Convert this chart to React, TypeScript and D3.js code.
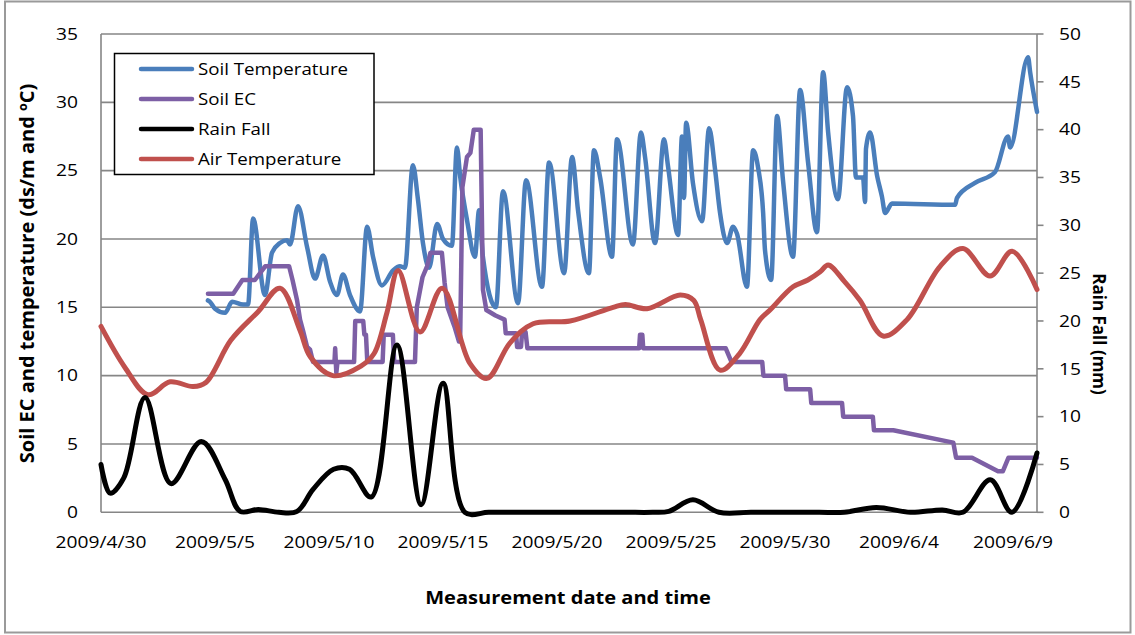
import React from "react";
import * as d3 from "d3";

const W = 1135;
const H = 635;

// x positions are day offsets from 2009/4/30 00:00
const dayEnd = 41.05;
const dateTickDays = [0, 5, 10, 15, 20, 25, 30, 35, 40];
const dateTickLabels = [
  "2009/4/30", "2009/5/5", "2009/5/10", "2009/5/15", "2009/5/20",
  "2009/5/25", "2009/5/30", "2009/6/4", "2009/6/9",
];
const leftTicks = [0, 5, 10, 15, 20, 25, 30, 35];
const rightTicks = [0, 5, 10, 15, 20, 25, 30, 35, 40, 45, 50];

const seriesNames = ["Soil Temperature", "Soil EC", "Rain Fall", "Air Temperature"];
const seriesColors = ["#4a7ebb", "#7d5fa5", "#000000", "#c0504d"];

// Soil temperature (ºC), [day, value]
const soilTemperature: [number, number][] = [
  [4.69, 15.5], [4.78, 15.4], [5.0, 14.9], [5.44, 14.6], [5.75, 15.4], [6.23, 15.2],
  [6.45, 15.2], [6.67, 21.5], [7.19, 15.9], [7.5, 19.0], [7.85, 19.7], [8.16, 19.9],
  [8.29, 19.6], [8.64, 22.4], [9.04, 19.4], [9.39, 17.1], [9.74, 18.8], [10.04, 16.9],
  [10.35, 15.9], [10.61, 17.4], [10.92, 15.9], [11.36, 14.7], [11.67, 20.9], [11.93, 18.7],
  [12.32, 16.6], [12.81, 17.7], [13.11, 18.0], [13.33, 17.9], [13.68, 25.4], [13.9, 22.9],
  [14.12, 19.7], [14.39, 17.9], [14.74, 21.1], [15.0, 20.0], [15.39, 19.5], [15.61, 26.7],
  [15.75, 24.6], [16.05, 21.4], [16.4, 18.7], [16.58, 22.1], [16.75, 18.7], [17.32, 15.0],
  [17.63, 23.5], [18.29, 15.3], [18.64, 24.3], [19.34, 16.5], [19.65, 25.6], [20.31, 17.5],
  [20.66, 26.0], [20.92, 22.1], [21.4, 17.5], [21.62, 26.5], [21.89, 24.5], [22.41, 18.7],
  [22.63, 27.3], [23.33, 19.6], [23.68, 27.8], [23.86, 26.0], [24.3, 19.7], [24.69, 27.3],
  [24.87, 25.3], [25.31, 20.3], [25.48, 27.5], [25.57, 23.0], [25.66, 28.5], [25.96, 24.1],
  [26.36, 21.3], [26.67, 28.1], [26.93, 25.1], [27.15, 21.9], [27.46, 19.7], [27.72, 20.9],
  [27.89, 20.4], [28.33, 16.5], [28.6, 26.5], [28.82, 25.2], [29.04, 21.9], [29.12, 19.2],
  [29.39, 17.0], [29.65, 29.0], [29.91, 24.3], [30.35, 18.7], [30.66, 30.9], [31.01, 25.6],
  [31.4, 20.5], [31.67, 32.2], [31.89, 27.8], [32.32, 22.9], [32.72, 31.1], [32.98, 29.0],
  [33.11, 24.5], [33.42, 24.5], [33.51, 22.7], [33.55, 26.6], [33.73, 27.8], [34.04, 24.6],
  [34.25, 23.1], [34.39, 21.9], [34.69, 22.6], [37.46, 22.5], [37.54, 23.0], [38.33, 24.1],
  [39.21, 24.9], [39.78, 27.5], [39.87, 26.7], [40.66, 33.3], [40.75, 32.2], [41.05, 29.3],
];

// Soil EC (ds/m), [day, value]
const soilEC: [number, number][] = [
  [4.69, 16], [5.8, 16], [6.2, 17], [6.75, 17], [7.2, 18], [8.25, 18], [8.4, 17],
  [8.6, 15.5], [8.73, 14.1], [8.86, 13.3], [9.04, 12.1], [9.17, 11.9], [9.3, 11],
  [10.24, 11], [10.27, 12], [10.32, 10.2], [10.37, 11], [11.1, 11], [11.15, 14],
  [11.5, 14], [11.55, 13], [11.62, 13], [11.68, 11], [12.35, 11], [12.4, 13],
  [12.8, 13], [12.86, 11], [13.77, 11], [13.85, 15], [14.1, 17.2], [14.3, 18],
  [14.45, 19], [14.95, 19], [15.07, 16.8], [15.2, 15], [15.5, 13.6], [15.7, 12.5],
  [15.75, 12.5], [15.85, 23.8], [16.05, 26], [16.2, 26.3], [16.35, 28], [16.65, 28],
  [16.75, 16.3], [16.9, 14.8], [17.3, 14.4], [17.7, 14.1], [17.75, 13.1], [18.2, 13.1],
  [18.25, 12.1], [18.42, 12.1], [18.47, 13.2], [18.62, 13.2], [18.7, 12], [23.6, 12],
  [23.64, 13], [23.74, 13], [23.78, 12], [27.4, 12], [27.65, 11], [29.0, 11],
  [29.05, 10], [30.0, 10], [30.05, 9], [31.1, 9], [31.15, 8], [32.5, 8], [32.55, 7],
  [33.85, 7], [33.9, 6], [34.75, 6], [37.38, 5.1], [37.5, 4.0], [38.2, 4.0],
  [39.34, 3.0], [39.55, 3.0], [39.8, 4.0], [41.05, 4.0],
];

// Rain fall (mm), [day, value]
const rainFall: [number, number][] = [
  [0, 5.0], [0.4, 2.0], [1.0, 3.6], [1.93, 12.0], [3.07, 3.0], [4.4, 7.4], [5.45, 3.4],
  [6.1, 0.1], [6.9, 0.3], [7.8, 0.0], [8.6, 0.1], [9.3, 2.4], [10.2, 4.5], [10.9, 4.5],
  [11.85, 1.6], [12.98, 17.5], [14.04, 0.8], [15.0, 13.5], [15.96, 0.0], [17.0, 0.0],
  [18.5, 0.0], [20.0, 0.0], [21.5, 0.0], [23.0, 0.0], [24.2, 0.0], [24.9, 0.1],
  [25.96, 1.3], [27.1, 0.0], [28.5, 0.0], [30.0, 0.0], [31.5, 0.0], [32.6, 0.0],
  [34.0, 0.5], [35.5, 0.0], [36.9, 0.25], [37.8, 0.0], [39.0, 3.4], [39.95, 0.0],
  [41.05, 6.2],
];

// Air temperature (ºC), [day, value]
const airTemperature: [number, number][] = [
  [0, 13.6], [1.05, 10.6], [2.06, 8.6], [3.03, 9.55], [4.04, 9.2], [4.6, 9.5], [5.7, 12.6],
  [6.9, 14.7], [7.85, 16.4], [8.73, 13.3], [9.17, 11.4], [10.17, 10.0], [11.4, 10.7],
  [11.97, 11.6], [12.54, 14.6], [13.03, 17.7], [13.99, 13.2], [14.96, 16.4], [16.18, 10.9],
  [16.93, 9.8], [17.94, 12.4], [18.95, 13.8], [20.57, 14.0], [22.46, 15.0], [23.0, 15.2],
  [23.95, 14.9], [25.4, 15.9], [26.0, 15.5], [26.3, 14.1], [27.15, 10.4], [28.0, 11.6],
  [28.9, 14.1], [29.34, 14.8], [30.35, 16.5], [31.0, 17.0], [31.54, 17.6], [31.89, 18.1],
  [32.6, 16.9], [33.29, 15.5], [34.3, 12.9], [35.35, 14.1], [36.8, 18.0], [37.8, 19.3],
  [38.99, 17.3], [39.96, 19.1], [41.05, 16.3],
];

const plot = { left: 101, right: 1037, top: 34, bottom: 512.3 };
const FONT = "'Open Sans', 'Liberation Sans', sans-serif";
const SX = 1.2; // horizontal glyph stretch

function Label(props: {
  x: number; y: number; text: string; anchor?: string; size?: number;
  bold?: boolean; sx?: number; rotate?: number;
}) {
  const { x, y, text, anchor = "start", size = 16, bold = false, sx = SX, rotate = 0 } = props;
  const t = rotate
    ? `translate(${x},${y}) rotate(${rotate})`
    : `translate(${x},${y}) scale(${sx},1)`;
  return (
    <text
      transform={t}
      textAnchor={anchor}
      fontFamily={FONT}
      fontSize={size}
      fontWeight={bold ? 700 : 400}
      fill="#000"
    >
      {text}
    </text>
  );
}

export default function App() {
  const x = d3.scaleLinear().domain([0, dayEnd]).range([plot.left, plot.right]);
  const yL = d3.scaleLinear().domain([0, 35]).range([plot.bottom, plot.top]);
  const yR = d3.scaleLinear().domain([0, 50]).range([plot.bottom, plot.top]);

  const lineL = d3.line<[number, number]>().x((d) => x(d[0])).y((d) => yL(d[1]));
  const monoL = d3
    .line<[number, number]>()
    .x((d) => x(d[0]))
    .y((d) => yL(d[1]))
    .curve(d3.curveMonotoneX);
  const smoothL = d3
    .line<[number, number]>()
    .x((d) => x(d[0]))
    .y((d) => yL(d[1]))
    .curve(d3.curveCatmullRom.alpha(0.5));
  const smoothR = d3
    .line<[number, number]>()
    .x((d) => x(d[0]))
    .y((d) => yR(d[1]))
    .curve(d3.curveCatmullRom.alpha(0.5));

  const grid = "#868686";
  const legendY = [69, 99, 129, 159];

  return (
    <div style={{ position: "absolute", left: 0, top: 0 }}>
      <svg width={W} height={H} viewBox={`0 0 ${W} ${H}`} style={{ display: "block", background: "#fff" }}>
        <rect x={5} y={1.5} width={1125.5} height={631} fill="#fff" stroke="#9a9a9a" strokeWidth={2} />

        {/* horizontal gridlines */}
        {leftTicks.map((t) => (
          <line key={`g${t}`} x1={plot.left} x2={plot.right} y1={yL(t)} y2={yL(t)} stroke={grid} strokeWidth={1.6} />
        ))}
        {/* left axis line */}
        <line x1={plot.left} x2={plot.left} y1={plot.top} y2={plot.bottom} stroke={grid} strokeWidth={1.6} />
        {/* right axis with ticks */}
        <line x1={plot.right} x2={plot.right} y1={plot.top} y2={plot.bottom} stroke={grid} strokeWidth={1.6} />
        {rightTicks.map((t) => (
          <line key={`rt${t}`} x1={plot.right} x2={plot.right + 6.5} y1={yR(t)} y2={yR(t)} stroke={grid} strokeWidth={1.6} />
        ))}

        {/* left tick labels */}
        {leftTicks.map((t) => (
          <Label key={`ll${t}`} x={78} y={yL(t) + 5.8} text={String(t)} anchor="end" />
        ))}
        {/* right tick labels */}
        {rightTicks.map((t) => (
          <Label key={`rl${t}`} x={1059} y={yR(t) + 5.8} text={String(t)} anchor="start" />
        ))}
        {/* date labels */}
        {dateTickDays.map((d, i) => (
          <Label key={`xl${d}`} x={x(d)} y={547.5} text={dateTickLabels[i]} anchor="middle" />
        ))}

        {/* series */}
        <g fill="none" strokeLinejoin="round" strokeLinecap="round">
          <path d={monoL(soilTemperature) || ""} stroke={seriesColors[0]} strokeWidth={4.5} />
          <path d={lineL(soilEC) || ""} stroke={seriesColors[1]} strokeWidth={4.5} />
          <path d={smoothL(airTemperature) || ""} stroke={seriesColors[3]} strokeWidth={5} />
          <path d={smoothR(rainFall) || ""} stroke={seriesColors[2]} strokeWidth={5} />
        </g>

        {/* legend */}
        <rect x={114.5} y={53.5} width={259.5} height={121} fill="#fff" stroke="#000" strokeWidth={1.5} />
        {seriesNames.map((name, i) => (
          <g key={name}>
            <line x1={141} x2={192} y1={legendY[i]} y2={legendY[i]} stroke={seriesColors[i]} strokeWidth={4.5} strokeLinecap="round" />
            <Label x={198} y={legendY[i] + 6.3} text={name} size={17} sx={1.1} />
          </g>
        ))}

        {/* axis titles */}
        <Label x={568} y={604} text="Measurement date and time" anchor="middle" bold size={17} sx={1.18} />
        <Label x={33.5} y={273.5} text="Soil EC and temperature  (ds/m and ºC)" anchor="middle" bold size={20} rotate={-90} />
        <Label x={1093} y={334} text="Rain Fall  (mm)" anchor="middle" bold size={17} rotate={90} />
      </svg>
    </div>
  );
}
